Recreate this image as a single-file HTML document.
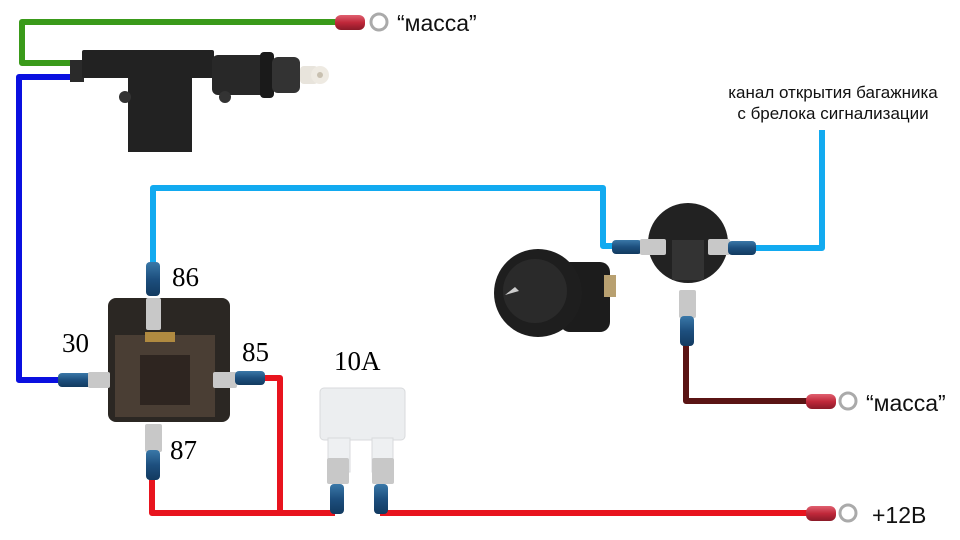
<!DOCTYPE html>
<html><head><meta charset="utf-8"><style>
html,body{margin:0;padding:0;background:#fff;width:960px;height:540px;overflow:hidden}
svg{display:block}
.t{font-family:"Liberation Sans",sans-serif;fill:#111}
.n{font-family:"Liberation Serif",serif;fill:#000;font-size:27px}
</style></head><body>
<svg width="960" height="540" viewBox="0 0 960 540" xmlns="http://www.w3.org/2000/svg">
<defs>
<linearGradient id="bl" x1="0" y1="0" x2="0" y2="1"><stop offset="0" stop-color="#3a78a8"/><stop offset="0.5" stop-color="#1d4f7e"/><stop offset="1" stop-color="#123a60"/></linearGradient>
<linearGradient id="rd" x1="0" y1="0" x2="0" y2="1"><stop offset="0" stop-color="#e06070"/><stop offset="0.5" stop-color="#c0283a"/><stop offset="1" stop-color="#8a1a28"/></linearGradient>
</defs>
<g fill="none" stroke-linejoin="round">
<polyline points="340,22 22,22 22,63 72,63" stroke="#3a9a1a" stroke-width="6"/>
<polyline points="72,77 19,77 19,380 62,380" stroke="#0a10e0" stroke-width="6"/>
<polyline points="153,264 153,188 603,188 603,246 614,246" stroke="#12aaf0" stroke-width="6"/>
<polyline points="752,248 822,248 822,130" stroke="#12aaf0" stroke-width="6"/>
<polyline points="262,378 280,378 280,512" stroke="#e8141e" stroke-width="6"/>
<polyline points="152,476 152,513 335,513" stroke="#e8141e" stroke-width="6"/>
<polyline points="380,513 810,513" stroke="#e8141e" stroke-width="6"/>
<polyline points="686,343 686,401 808,401" stroke="#5a1414" stroke-width="6"/>
</g>
<g>
<rect x="335" y="15" width="30" height="15" rx="6" fill="url(#rd)"/>
<circle cx="379" cy="22" r="8" fill="none" stroke="#aaa" stroke-width="3"/>
<rect x="806" y="394" width="30" height="15" rx="6" fill="url(#rd)"/>
<circle cx="848" cy="401" r="8" fill="none" stroke="#aaa" stroke-width="3"/>
<rect x="806" y="506" width="30" height="15" rx="6" fill="url(#rd)"/>
<circle cx="848" cy="513" r="8" fill="none" stroke="#aaa" stroke-width="3"/>
</g>
<text class="t" x="397" y="31" font-size="23">“масса”</text>
<text class="t" x="866" y="411" font-size="23">“масса”</text>
<text class="t" x="872" y="523" font-size="23">+12В</text>
<text class="t" x="833" y="98" font-size="17" text-anchor="middle">канал открытия багажника</text>
<text class="t" x="833" y="119" font-size="17" text-anchor="middle">с брелока сигнализации</text>
<g fill="#222">
<rect x="70" y="60" width="14" height="22" fill="#2a2a2a"/>
<rect x="82" y="50" width="132" height="28" rx="2"/>
<rect x="128" y="76" width="64" height="76"/>
<rect x="212" y="55" width="60" height="40" rx="6" fill="#282828"/>
<rect x="260" y="52" width="14" height="46" rx="4" fill="#1a1a1a"/>
<rect x="272" y="57" width="28" height="36" rx="6" fill="#333"/>
<circle cx="125" cy="97" r="6" fill="#333"/>
<circle cx="225" cy="97" r="6" fill="#333"/>
<rect x="300" y="66" width="18" height="18" rx="4" fill="#e8e4dc"/>
<circle cx="320" cy="75" r="9" fill="#eeeae2"/>
<circle cx="320" cy="75" r="3" fill="#c8c0b0"/>
</g>
<rect x="108" y="298" width="122" height="124" rx="8" fill="#2b2723"/>
<rect x="115" y="335" width="100" height="82" fill="#4a3e34"/>
<rect x="140" y="355" width="50" height="50" fill="#2e2520"/>
<rect x="145" y="332" width="30" height="10" fill="#b08a40"/>
<g>
<rect x="146" y="262" width="14" height="34" rx="4" fill="url(#bl)"/>
<rect x="146" y="298" width="15" height="32" rx="2" fill="#c8c8c8"/>
<rect x="58" y="373" width="34" height="14" rx="4" fill="url(#bl)"/>
<rect x="88" y="372" width="22" height="16" rx="2" fill="#c8c8c8"/>
<rect x="213" y="372" width="24" height="16" rx="2" fill="#c8c8c8"/>
<rect x="235" y="371" width="30" height="14" rx="4" fill="url(#bl)"/>
<rect x="145" y="424" width="17" height="28" rx="2" fill="#c8c8c8"/>
<rect x="146" y="450" width="14" height="30" rx="4" fill="url(#bl)"/>
</g>
<text class="n" x="172" y="286">86</text>
<text class="n" x="62" y="352">30</text>
<text class="n" x="242" y="361">85</text>
<text class="n" x="170" y="459">87</text>
<text class="n" x="334" y="370">10A</text>
<rect x="320" y="388" width="85" height="52" rx="4" fill="#eceef0" stroke="#d8dadc"/>
<rect x="328" y="438" width="22" height="34" fill="#eef0f2" stroke="#d8dadc"/>
<rect x="372" y="438" width="21" height="34" fill="#eef0f2" stroke="#d8dadc"/>
<rect x="327" y="458" width="22" height="26" rx="2" fill="#c8c8c8"/>
<rect x="372" y="458" width="22" height="26" rx="2" fill="#c8c8c8"/>
<rect x="330" y="484" width="14" height="30" rx="4" fill="url(#bl)"/>
<rect x="374" y="484" width="14" height="30" rx="4" fill="url(#bl)"/>
<rect x="560" y="262" width="50" height="70" rx="10" fill="#1c1c1c"/>
<rect x="604" y="275" width="12" height="22" fill="#b8a070"/>
<circle cx="538" cy="293" r="44" fill="#1e1e1e"/>
<circle cx="535" cy="291" r="32" fill="#2a2a2a"/>
<path d="M505 295 l10 -8 l4 4 z" fill="#ccc"/>
<circle cx="688" cy="243" r="40" fill="#222"/>
<rect x="672" y="240" width="32" height="40" fill="#333"/>
<rect x="612" y="240" width="30" height="14" rx="4" fill="url(#bl)"/>
<rect x="640" y="239" width="26" height="16" rx="2" fill="#c8c8c8"/>
<rect x="708" y="239" width="22" height="16" rx="2" fill="#c8c8c8"/>
<rect x="728" y="241" width="28" height="14" rx="4" fill="url(#bl)"/>
<rect x="679" y="290" width="17" height="28" rx="2" fill="#c8c8c8"/>
<rect x="680" y="316" width="14" height="30" rx="4" fill="url(#bl)"/>
</svg>
</body></html>
